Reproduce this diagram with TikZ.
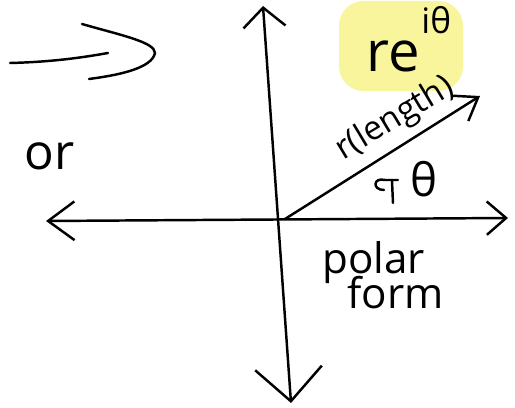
\documentclass[tikz,border=0pt]{standalone}
\usepackage{fontspec}
\setmainfont{Open Sans}
\usetikzlibrary{arrows.meta, positioning}
\definecolor{cInk}{HTML}{000000}
\definecolor{cHigh}{HTML}{F8F59C}
\tikzset{
  ink/.style={draw=cInk, line width=1.4pt, line cap=round, line join=round},
  hand/.style={font=\fontsize{#1}{#1}\selectfont, inner sep=0pt, text=cInk},
  hand/.default=24,
}

\begin{document}
\begin{tikzpicture}[x=0.02cm, y=-0.02cm]
  \useasboundingbox (0,0) rectangle (515,408);

  % Highlight
  \fill[cHigh, rounded corners=14] (339,1) rectangle (463,91);

  % Axis ends
  \coordinate (left) at (46,221);
  \coordinate (right) at (508,218);
  \coordinate (top) at (263,6);
  \coordinate (bottom) at (291,403);
  \coordinate (origin) at (285,219);
  \coordinate (tip) at (480,96);

  % Axes
  \draw[ink, {Straight Barb[length=15pt,width=22pt]}-{Straight Barb[length=11pt,width=19pt]}]
    (left) -- (right);
  \draw[ink, {Straight Barb[length=11pt,width=24pt]}-{Straight Barb[length=19pt,width=38pt]}]
    (top) -- (bottom);
  \draw[ink, -{Straight Barb[length=12pt,width=17pt]}] (origin) -- (tip);

  % Labels
  \node[hand=32, anchor=base west] (expo) at (366,72)
    {re\kern1pt\raisebox{22pt}{\fontsize{20}{20}\selectfont iθ}};
  \node[hand=19, rotate=31] (len) at (395,119) {r(length)};
  \node[hand=26, anchor=base west] (theta) at (410,197) {θ};
  \node[hand=24, anchor=base west] (polar) at (322,274) {polar};
  \node[hand=24, anchor=base west] (form) at (347,309) {form};
  \node[hand=28, anchor=base west] (or) at (24,170) {or};

  % Angle mark
  \draw[ink] (384,190) .. controls (372,190) and (373,177) .. (385,180) -- (398,180);
  \draw[ink] (392,181) -- (393,203);

  % Sketch arrow
  \coordinate (shaft) at (10,63);
  \coordinate (head) at (155,53);
  \draw[ink] (shaft) .. controls (50,62) and (80,58) .. (108,53);
  \draw[ink] (82,24) .. controls (120,35) and (155,42) .. (head)
    .. controls (152,68) and (120,75) .. (89,79);

\end{tikzpicture}
\end{document}
